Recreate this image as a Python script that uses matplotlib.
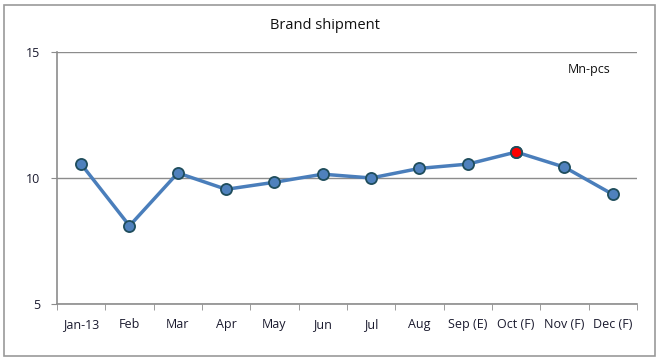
import matplotlib.pyplot as plt
from matplotlib.patches import Rectangle

# ---------------------------------------------
# DATA
# ---------------------------------------------
months    = ["Jan-13", "Feb", "Mar", "Apr", "May", "Jun", "Jul", "Aug",
             "Sep (E)", "Oct (F)", "Nov (F)", "Dec (F)"]
shipments = [10.55, 8.1, 10.2, 9.55, 9.83, 10.15, 10.0, 10.38, 10.55, 11.03, 10.43, 9.35]
highlight = "Oct (F)"   # red marker

plt.rcParams["font.family"] = ["Open Sans", "DejaVu Sans"]

fig = plt.figure(figsize=(6.59, 3.61), dpi=100)
ax = fig.add_axes([0.0865, 0.158, 0.88, 0.698])

# outer chart border
fig.patches.append(Rectangle((0.006, 0.015), 0.988, 0.972, transform=fig.transFigure,
                             fill=False, edgecolor="#9a9a9a", linewidth=1.2))

x = list(range(len(months)))
ax.plot(x, shipments, color="#4a7ebb", linewidth=2.5, marker="o", markersize=8,
        markerfacecolor="#4f81bd", markeredgecolor="#1f4d5c", markeredgewidth=1.3, zorder=3)

hi = months.index(highlight)
ax.plot([hi], [shipments[hi]], marker="o", markersize=8, markerfacecolor="#ff0000",
        markeredgecolor="#1f4d5c", markeredgewidth=1.3, zorder=4, linestyle="none")

ax.set_xlim(-0.5, len(months) - 0.5)
ax.set_ylim(5, 15)
ax.set_yticks([5, 10, 15])
ax.set_xticks(x)
ax.set_xticklabels(months)
ax.set_xticks([i - 0.5 for i in range(len(months) + 1)], minor=True)
ax.tick_params(axis="x", which="major", length=0, pad=10, labelsize=9, labelcolor="#1a1a2e")
ax.tick_params(axis="x", which="minor", length=4, color="#8c8c8c", direction="out")
ax.tick_params(axis="y", length=4, color="#8c8c8c", labelsize=9, labelcolor="#1a1a2e", pad=8)

ax.grid(axis="y", color="#8c8c8c", linewidth=1)
for s in ["top", "right"]:
    ax.spines[s].set_visible(False)
for s in ["left", "bottom"]:
    ax.spines[s].set_color("#8c8c8c")
    ax.spines[s].set_linewidth(1.2)
ax.set_axisbelow(True)

fig.text(0.493, 0.93, "Brand shipment", ha="center", va="center", fontsize=10.5, color="#111111")
ax.text(0.955, 0.93, "Mn-pcs", transform=ax.transAxes, ha="right", va="center",
        fontsize=9, color="#111111")

fig.savefig("out.png", dpi=100)
